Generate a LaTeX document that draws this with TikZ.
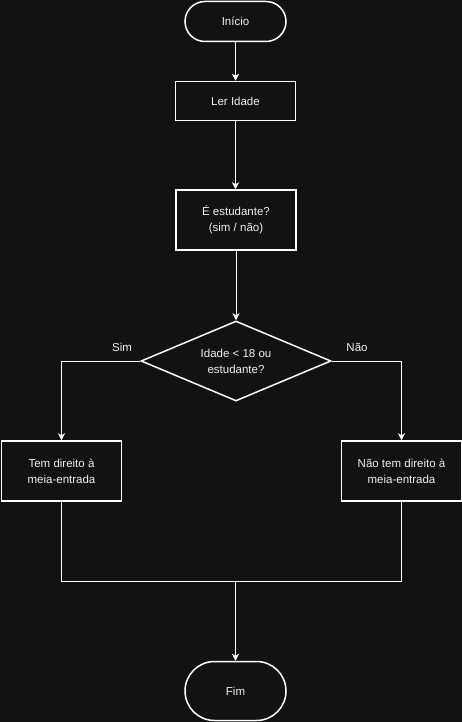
\documentclass[tikz,border=0pt]{standalone}
\usepackage{fontspec}
\setmainfont{Liberation Sans}
\usetikzlibrary{arrows.meta,shapes.geometric,shapes.misc}
\definecolor{bg}{RGB}{18,18,18}
\definecolor{txt}{RGB}{240,240,240}
\begin{document}
\begin{tikzpicture}[x=1pt,y=-1pt,
  every node/.style={font=\fontsize{11.5}{16}\selectfont, text=txt, align=center, inner sep=0pt},
  term/.style={draw=white, line width=1.5pt, fill=bg, rounded rectangle, minimum width=101pt},
  proc/.style={draw=white, line width=1.5pt, fill=bg, rectangle, minimum width=120pt},
  dec/.style={draw=white, line width=1.5pt, fill=bg, diamond, aspect=2.375, minimum width=190pt, minimum height=80pt},
  conn/.style={draw=white, line width=0.8pt},
  arr/.style={conn, -{Stealth[length=7pt,width=7pt,inset=2pt]}},
  lbl/.style={font=\fontsize{11.5}{13}\selectfont}]
\fill[bg] (0,0) rectangle (462,722);
\useasboundingbox (0,0) rectangle (462,722);
\node[term, minimum height=40pt] (ini) at (235.5,21.5) {Início};
\node[proc, minimum height=39pt] (ler) at (235.5,101) {Ler Idade};
\node[proc, minimum height=60pt] (est) at (236,220) {É estudante?\\(sim / não)};
\node[dec] (dec) at (236,361) {Idade < 18 ou\\estudante?};
\node[proc, minimum height=60pt] (sim) at (61.5,471) {Tem direito à\\meia-entrada};
\node[proc, minimum height=60pt] (nao) at (401.5,471) {Não tem direito à\\meia-entrada};
\node[term, minimum height=59pt] (fim) at (235.5,691) {Fim};
\node[lbl] (lsim) at (122,347) {Sim};
\node[lbl] (lnao) at (357,347) {Não};
\coordinate (bl) at (61.5,581);
\coordinate (br) at (401.5,581);
\coordinate (bm) at (235.5,581);
\draw[arr] (ini) -- (ler);
\draw[arr] (ler.south) -- (est.north -| ler.south);
\draw[arr] (est) -- (dec);
\draw[arr] (dec.west) -| (sim.north);
\draw[arr] (dec.east) -| (nao.north);
\draw[conn] (sim.south) -- (bl) -- (br) -- (nao.south);
\draw[arr] (bm) -- (fim.north);
\end{tikzpicture}
\end{document}
